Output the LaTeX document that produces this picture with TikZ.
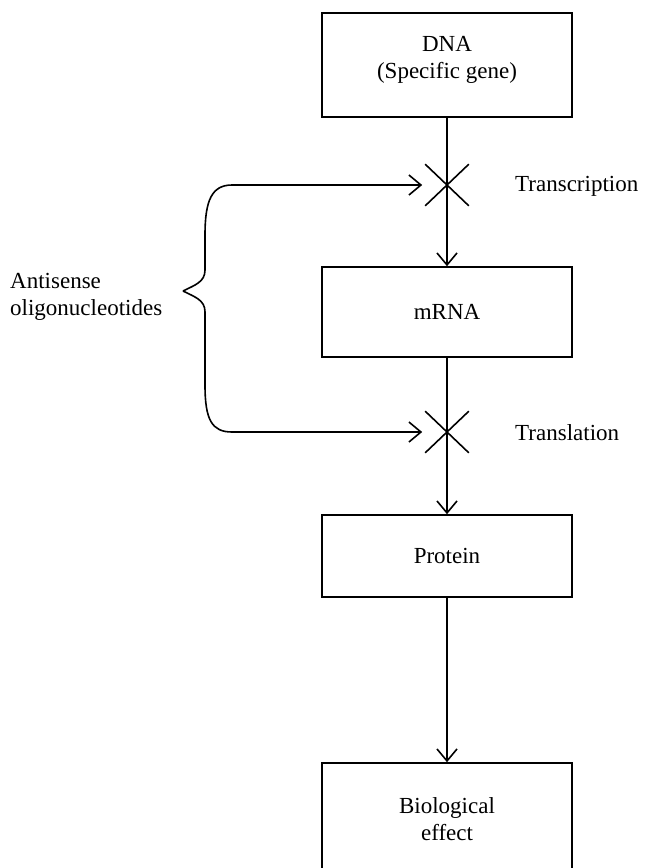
\documentclass[tikz,border=0pt]{standalone}
\usepackage{fontspec}
\setmainfont{Liberation Serif}
\usetikzlibrary{arrows.meta,shapes.misc}
\begin{document}
\begin{tikzpicture}[x=1pt,y=-1pt,
  box/.style={draw,line width=1.6pt,minimum width=250pt,inner sep=0pt,font=\fontsize{23}{27}\selectfont,align=center},
  lbl/.style={font=\fontsize{23}{27}\selectfont,inner sep=0pt},
  xmark/.style={cross out,draw,line width=1.6pt,minimum width=42pt,minimum height=40pt,inner sep=0pt},
  conn/.style={line width=1.6pt},
  arr/.style={conn,-{Straight Barb[length=12pt,width=20pt]}}]
\fill[white] (0,0) rectangle (648,868);
\useasboundingbox (0,0) rectangle (648,868);
\clip (0,0) rectangle (648,868);

\node[box,minimum height=104pt] (dna) at (447,65) {};
\node[lbl,align=center] (dnat) at (447,60) {DNA\\(Specific gene)};
\node[box,minimum height=90pt] (mrna) at (447,312) {mRNA};
\node[box,minimum height=82pt] (prot) at (447,556) {Protein};
\node[box,minimum height=120pt] (bio) at (447,823) {};
\node[lbl,align=center] (biot) at (447,819) {Biological\\effect};

\node[xmark] (x1) at (447,185) {};
\node[xmark] (x2) at (447,432) {};

\draw[arr] (dna.south) -- (mrna.north);
\draw[arr] (mrna.south) -- (prot.north);
\draw[arr] (prot.south) -- (bio.north);

\coordinate (tip) at (183,291);
\draw[arr] (tip) .. controls (195,285) and (205,282) .. (205,270) -- (205,235)
  .. controls (205,200) and (212,185) .. (232,185) -- ([xshift=-3pt]x1.west);
\draw[arr] (tip) .. controls (195,297) and (205,300) .. (205,312) -- (205,385)
  .. controls (205,420) and (212,432) .. (232,432) -- ([xshift=-3pt]x2.west);

\node[lbl,anchor=west] (tr) at (515,186) {Transcription};
\node[lbl,anchor=west] (tl) at (515,433) {Translation};
\node[lbl,anchor=west,align=left] (as) at (10,297) {Antisense\\oligonucleotides};
\end{tikzpicture}
\end{document}
